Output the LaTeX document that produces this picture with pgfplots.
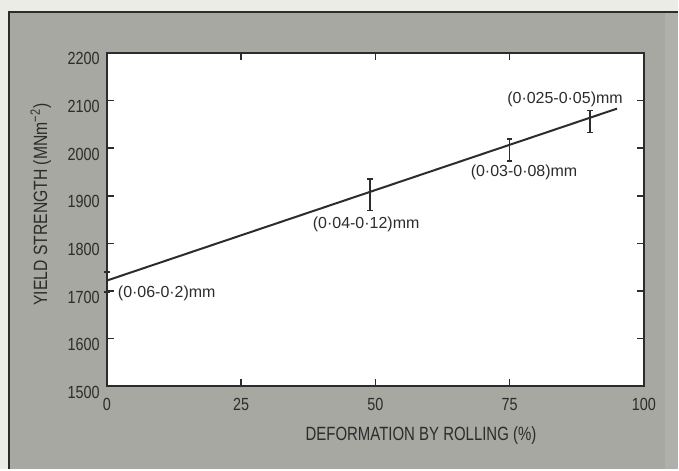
\documentclass[border=0pt]{standalone}
\usepackage{fontspec}
\setmainfont{Liberation Sans}
\newfontfamily\condfont[FakeStretch=0.82]{Liberation Sans}
\newfontfamily\labfont[FakeStretch=0.78]{Liberation Sans}
\usepackage{pgfplots}
\usepackage{pgfplotstable}
\pgfplotsset{compat=1.18}
\definecolor{bgout}{HTML}{ECECE7}
\definecolor{bggrey}{HTML}{A6A8A1}
\definecolor{bgright}{HTML}{AFB0AA}
\definecolor{ink}{HTML}{2C2C2C}
\pgfplotstableread{
x y ep em
0 1720 20 22
49 1902 33 33
75 1996 23 23
90 2056 23 23
}\pts
\begin{document}
\begin{tikzpicture}
\fill[bgout] (0,0) rectangle (339.5pt,235pt);
\fill[bggrey] (4.5pt,0) rectangle (339.5pt,229pt);
\fill[bgright] (333pt,0) rectangle (339.5pt,229pt);
\draw[ink, line width=1.2pt] (4.5pt,0) -- (4.5pt,229pt) -- (339.5pt,229pt);
\begin{axis}[
  at={(53.5pt,41.5pt)}, anchor=south west,
  scale only axis, width=269pt, height=167pt,
  xmin=0, xmax=100, ymin=1500, ymax=2200,
  xtick={0,25,50,75,100}, ytick={1500,1600,...,2200},
  tick align=inside, major tick length=3.5pt,
  axis line style={ink, line width=1pt},
  tick style={ink, line width=0.8pt},
  axis background/.style={fill=white},
  ticklabel style={font=\condfont\fontsize{8.8}{10}\selectfont, text=ink},
  /pgf/number format/assume math mode=true,
  /pgf/number format/set thousands separator={},
  xticklabel style={yshift=-2.5pt},
  yticklabel style={yshift=-3pt},
  xlabel={DEFORMATION BY ROLLING (\%)},
  ylabel={YIELD STRENGTH (MNm\textsuperscript{−2})},
  xlabel style={font=\labfont\fontsize{9.6}{11}\selectfont, text=ink,
    at={(axis description cs:0.585,-0.147)}, anchor=center},
  ylabel style={font=\condfont\fontsize{9.6}{11}\selectfont, text=ink,
    at={(axis description cs:-0.123,0.545)}, anchor=center},
  clip=false,
]
\addplot[ink, line width=1pt] coordinates {(0,1722) (95,2083)};
\addplot[draw=none, mark=none,
  error bars/.cd, y dir=both, y explicit,
  error bar style={draw=ink, line width=0.8pt},
  error mark options={draw=ink, line width=0.8pt, mark size=1.4pt, rotate=90}]
  table[x=x, y=y, y error plus=ep, y error minus=em] {\pts};
\begin{scope}[every node/.style={anchor=west, inner sep=0pt, text=ink, font=\fontsize{8}{9}\selectfont}]
\node at (axis cs:2,1695) {(0·06-0·2)mm};
\node at (axis cs:38.3,1840) {(0·04-0·12)mm};
\node at (axis cs:67.7,1949) {(0·03-0·08)mm};
\node at (axis cs:74.5,2102) {(0·025-0·05)mm};
\end{scope}
\end{axis}
\end{tikzpicture}
\end{document}
